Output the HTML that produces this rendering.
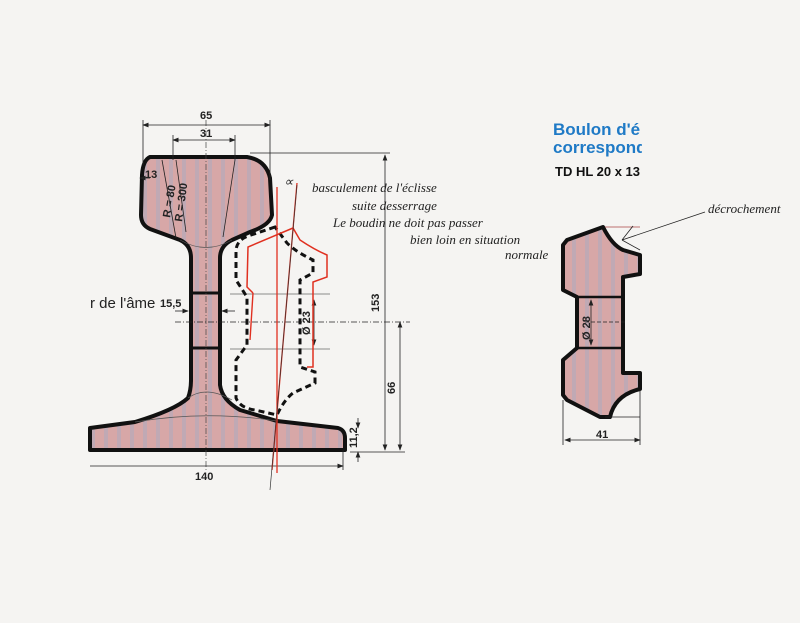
<!DOCTYPE html>
<html><head><meta charset="utf-8"><style>
html,body{margin:0;padding:0;background:#f5f4f2;}
svg{display:block}
.h{font-family:"Liberation Serif",serif;font-style:italic;font-size:13px;fill:#222;}
.d{font-family:"Liberation Sans",sans-serif;font-weight:bold;font-size:11px;fill:#222;}
</style></head><body>
<svg width="800" height="623" viewBox="0 0 800 623" xmlns="http://www.w3.org/2000/svg">
<defs>
<pattern id="st" width="13" height="10" patternUnits="userSpaceOnUse">
<rect width="13" height="10" fill="#d7a7a7"/>
<rect x="0" width="4" height="10" fill="#c0a9b4"/>
</pattern>
<marker id="a" markerWidth="8" markerHeight="6" refX="7" refY="3" orient="auto-start-reverse"><path d="M0,0L8,3L0,6z" fill="#222"/></marker>
</defs>
<rect width="800" height="623" fill="#f5f4f2"/>
<!-- rail -->
<path d="M150,157 L247,157 Q266,160 270,178 L272,215 Q270,225 250,232 L232,240 Q220,246 220,258 L220,385 Q222,400 240,410 L277,421 L338,428 Q345,430 345,438 L345,450 L90,450 L90,428 L135,422 Q175,410 188,398 Q191,390 191,380 L191,258 Q191,245 180,240 L150,229 Q141,225 141,215 L142,175 Q143,160 150,157 Z" fill="url(#st)" stroke="#111" stroke-width="4" stroke-linejoin="round"/>
<line x1="191" y1="293" x2="220" y2="293" stroke="#111" stroke-width="3"/>
<line x1="191" y1="348" x2="220" y2="348" stroke="#111" stroke-width="3"/>
<line x1="206" y1="120" x2="206" y2="470" stroke="#444" stroke-width="0.7" stroke-dasharray="6,2,1,2"/>
<path d="M180,240 Q206,255 232,240 M188,398 Q206,385 232,400 M135,422 Q206,410 277,421" fill="none" stroke="#555" stroke-width="0.7"/>
<!-- dims -->
<g stroke="#222" stroke-width="0.8" fill="none">
<line x1="143" y1="125" x2="270" y2="125" marker-start="url(#a)" marker-end="url(#a)"/>
<line x1="143" y1="120" x2="143" y2="165"/><line x1="270" y1="120" x2="270" y2="180"/>
<line x1="173" y1="140" x2="235" y2="140" marker-start="url(#a)" marker-end="url(#a)"/>
<line x1="173" y1="135" x2="173" y2="160"/><line x1="235" y1="135" x2="235" y2="160"/>
<line x1="250" y1="153" x2="390" y2="153"/>
<line x1="385" y1="155" x2="385" y2="450" marker-start="url(#a)" marker-end="url(#a)"/>
<line x1="400" y1="322" x2="400" y2="450" marker-start="url(#a)" marker-end="url(#a)"/>
<line x1="350" y1="452" x2="405" y2="452"/>
<line x1="358" y1="418" x2="358" y2="428" marker-end="url(#a)"/>
<line x1="358" y1="462" x2="358" y2="452" marker-end="url(#a)"/>
<line x1="90" y1="466" x2="343" y2="466" marker-end="url(#a)"/>
<line x1="343" y1="450" x2="343" y2="470"/>
<line x1="176" y1="238" x2="162" y2="160" /><line x1="186" y1="232" x2="176" y2="160"/>
<line x1="223" y1="237" x2="235" y2="160"/>
<line x1="150" y1="178" x2="140" y2="178" marker-end="url(#a)"/>
<line x1="175" y1="311" x2="188" y2="311" marker-end="url(#a)"/><line x1="235" y1="311" x2="222" y2="311" marker-end="url(#a)"/>
<line x1="175" y1="322" x2="410" y2="322" stroke-dasharray="6,2,1,2"/>
<line x1="230" y1="294" x2="330" y2="294" stroke-width="0.5"/><line x1="230" y1="349" x2="330" y2="349" stroke-width="0.5"/>
<line x1="314" y1="300" x2="314" y2="345" marker-start="url(#a)" marker-end="url(#a)"/>
</g>
<text class="d" x="200" y="119" font-size="12">65</text>
<text class="d" x="200" y="137">31</text>
<text class="d" x="195" y="480" font-size="12">140</text>
<text class="d" transform="translate(379,312) rotate(-90)" font-size="12">153</text>
<text class="d" transform="translate(395,394) rotate(-90)" font-size="10">66</text>
<text class="d" transform="translate(357,448) rotate(-90)" font-size="10">11,2</text>
<text class="d" x="145" y="178" font-size="9">13</text>
<text class="d" transform="translate(170,218) rotate(-80)" font-size="9">R = 80</text>
<text class="d" transform="translate(182,222) rotate(-82)" font-size="9">R = 300</text>
<text class="d" transform="translate(310,335) rotate(-90)" font-size="9">Ø 23</text>
<text x="90" y="308" font-family="Liberation Sans,sans-serif" font-size="15" fill="#222">r de l'âme</text>
<text class="d" x="160" y="307" font-size="10">15,5</text>
<!-- eclisse dashed -->
<path d="M275,227 L248,236 Q237,240 236,250 L236,280 L247,297 L247,345 L236,360 L236,398 Q240,408 255,410 L277,415 Q284,400 293,393 L315,383 L315,372 L300,367 L300,280 L313,273 L313,260 Q296,252 287,243 Z" fill="none" stroke="#111" stroke-width="3" stroke-dasharray="6,4"/>
<!-- red -->
<path d="M253,293 L247,287 L248,247 L293,228 L300,240 Q315,250 327,255 L327,277 L313,282 L313,367 L307,367" fill="none" stroke="#e03020" stroke-width="1.5"/>
<path d="M253,293 L250,340" fill="none" stroke="#e03020" stroke-width="1.4"/>
<line x1="277" y1="187" x2="277" y2="473" stroke="#e03020" stroke-width="1.3"/>
<line x1="297" y1="183" x2="272" y2="470" stroke="#e03020" stroke-width="1.3"/>
<line x1="297" y1="185" x2="270" y2="490" stroke="#333" stroke-width="0.7"/>
<text class="h" x="284" y="186" font-size="16">∝</text>
<text class="h" x="312" y="192">basculement de l'éclisse</text>
<text class="h" x="352" y="210">suite desserrage</text>
<text class="h" x="333" y="227">Le boudin ne doit pas passer</text>
<text class="h" x="410" y="244">bien loin en situation</text>
<text class="h" x="505" y="259">normale</text>
<!-- right -->
<text x="553" y="135" font-family="Liberation Sans,sans-serif" font-weight="bold" font-size="17" fill="#1f7ac6">Boulon d'é</text>
<text x="553" y="153" font-family="Liberation Sans,sans-serif" font-weight="bold" font-size="17" fill="#1f7ac6">correspond</text>
<text x="555" y="176" font-family="Liberation Sans,sans-serif" font-weight="bold" font-size="13" fill="#111">TD HL 20 x 13</text>
<rect x="642" y="110" width="158" height="80" fill="#f5f4f2"/>
<path d="M567,240 L603,227 Q612,245 623,250 L640,255 L640,274 L623,277 L623,373 L640,373 L640,389 Q615,395 610,417 L600,417 L567,400 L563,395 L563,360 L577,348 L577,297 L563,290 L563,245 Z" fill="url(#st)" stroke="#111" stroke-width="4" stroke-linejoin="round"/>
<line x1="577" y1="297" x2="623" y2="297" stroke="#111" stroke-width="2.5"/>
<line x1="577" y1="348" x2="623" y2="348" stroke="#111" stroke-width="2.5"/>
<g stroke="#222" stroke-width="0.8" fill="none">
<line x1="565" y1="440" x2="640" y2="440" marker-start="url(#a)" marker-end="url(#a)"/>
<line x1="563" y1="400" x2="563" y2="445"/><line x1="640" y1="390" x2="640" y2="445"/>
<line x1="605" y1="227" x2="640" y2="227" stroke="#a44"/>
<line x1="605" y1="417" x2="640" y2="417"/>
<line x1="591" y1="300" x2="591" y2="345" marker-start="url(#a)" marker-end="url(#a)"/>
<line x1="585" y1="322" x2="625" y2="322" stroke-dasharray="4,2"/>
<path d="M705,212 L622,240 M622,240 L633,226 M622,240 L640,250"/>
</g>
<text class="d" transform="translate(590,340) rotate(-90)" font-size="9">Ø 28</text>
<text class="d" x="596" y="438">41</text>
<text class="h" x="708" y="213">décrochement</text>
</svg>
</body></html>
